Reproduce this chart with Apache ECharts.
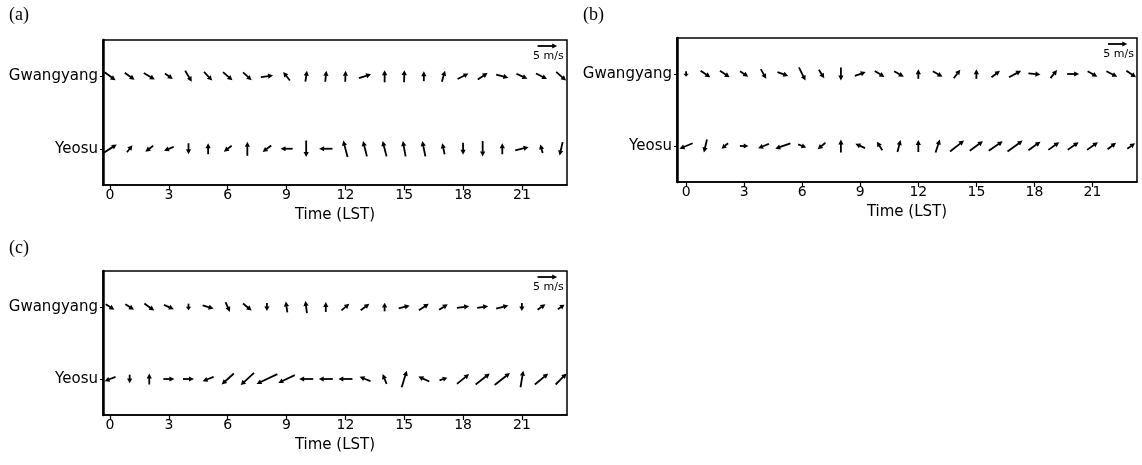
<!DOCTYPE html>
<html>
  <head>
    <meta charset="utf-8" />
    <title>Wind vectors</title>
    <style>
      html, body { margin: 0; padding: 0; background: #fff; }
      #main { width: 1142px; height: 465px; }
    </style>
  </head>
  <body>
    <script type="text/javascript" src="https://cdn.jsdelivr.net/npm/echarts@6/dist/echarts.min.js"></script>
    <div id="main"></div>
    <script type="text/javascript">
      // hours 0..23 (LST), wind components in m/s (u east, v north)
      var hours = [0,1,2,3,4,5,6,7,8,9,10,11,12,13,14,15,16,17,18,19,20,21,22,23];
      var stations = ["Yeosu", "Gwangyang"];
      var tickHours = [0, 3, 6, 9, 12, 15, 18, 21];
      var scaleSpeed = 5;

      // panel (a)
      var gwangA_u = [2.8,2.5,2.8,2.0,1.7,2.1,2.4,2.2,3.1,-1.7,0.4,0.3,0.1,3.1,0.0,0.1,0.0,0.8,2.8,2.5,3.1,2.8,2.8,2.5];
      var gwangA_v = [-2.0,-1.8,-1.7,-1.4,-2.8,-2.2,-2.1,-2.0,0.4,2.2,2.8,2.8,2.8,1.0,3.1,3.1,2.5,2.8,1.4,1.7,-0.8,-1.3,-1.4,-2.2];
      var yeosuA_u = [3.4,1.4,-2.0,-2.5,0.0,0.0,-2.0,0.0,-2.2,-3.1,0.0,-3.4,-1.1,-1.0,-1.0,-0.7,-0.8,-0.6,0.0,0.0,0.0,3.4,-0.6,-0.8];
      var yeosuA_v = [2.2,1.8,-1.5,-1.0,-2.8,2.8,-1.5,3.6,-1.7,0.0,-4.2,0.0,4.2,3.9,3.9,3.9,3.9,2.8,-3.1,-3.9,2.8,0.8,2.2,-3.4];

      // panel (b)
      var gwangB_u = [0.0,2.5,2.5,2.1,1.4,2.8,1.7,1.4,0.0,2.8,2.5,2.5,0.0,2.5,1.7,0.0,2.2,3.1,3.1,1.7,3.1,2.5,2.8,2.5];
      var gwangB_v = [-1.4,-1.7,-1.7,-1.4,-2.5,-1.0,-3.4,-2.2,-3.4,1.0,-1.5,-1.4,2.5,-1.4,2.2,2.5,1.7,1.7,-0.3,2.1,0.0,-1.4,-1.4,-1.7];
      var yeosuB_u = [-3.4,-0.8,-1.7,2.2,-2.8,-3.9,2.1,-2.0,0.0,-2.5,-1.4,0.8,0.0,1.1,3.6,3.4,3.6,3.9,3.1,2.8,2.8,2.8,2.2,2.0];
      var yeosuB_v = [-1.4,-3.4,-1.4,0.0,-1.1,-1.4,-0.8,-1.7,3.4,1.1,2.2,3.1,3.1,3.4,2.8,2.5,2.5,2.8,2.2,2.0,2.0,2.0,1.7,1.4];

      // panel (c)
      var gwangC_u = [2.2,2.2,2.5,2.5,0.0,2.8,1.1,2.2,0.0,-0.4,-0.4,0.0,2.0,2.2,0.0,2.8,2.5,2.2,3.1,2.8,3.1,0.0,2.0,1.7];
      var gwangC_v = [-1.4,-1.4,-1.8,-1.1,-1.7,-0.8,-2.5,-1.8,-2.0,2.8,3.1,2.5,1.7,1.7,2.2,0.7,1.7,1.4,0.4,0.4,0.8,-2.0,1.4,1.1];
      var yeosuC_u = [-2.8,0.0,0.0,2.8,2.8,-2.8,-3.1,-3.4,-5.3,-4.2,-3.6,-3.6,-3.6,-2.8,-1.0,1.3,-2.8,2.0,3.1,3.6,3.9,0.7,3.4,2.8];
      var yeosuC_v = [-1.1,-2.2,2.8,0.0,0.0,-1.1,-2.8,-3.1,-2.5,-2.0,0.0,0.0,0.0,1.1,2.5,4.2,1.3,0.7,2.5,2.8,3.1,4.2,2.8,2.8];

      var panels = [
        { label: "(a)", gu: gwangA_u, gv: gwangA_v, yu: yeosuA_u, yv: yeosuA_v,
          grid: { left: 103, top: 40, width: 464, height: 145 }, min: -0.36, max: 23.3 },
        { label: "(b)", gu: gwangB_u, gv: gwangB_v, yu: yeosuB_u, yv: yeosuB_v,
          grid: { left: 677, top: 38, width: 460, height: 144 }, min: -0.47, max: 23.3 },
        { label: "(c)", gu: gwangC_u, gv: gwangC_v, yu: yeosuC_u, yv: yeosuC_v,
          grid: { left: 103, top: 271, width: 464, height: 144 }, min: -0.36, max: 23.3 }
      ];

      var HOURS_PER_MS = 0.2; // 5 m/s arrow ~ one hour wide
      var FONT = "DejaVu Sans";

      function arrowShape(cx, cy, dx, dy) {
        var len = Math.sqrt(dx * dx + dy * dy);
        if (len < 0.5) return { type: "group", children: [] };
        var x0 = cx - dx / 2, y0 = cy - dy / 2;
        var x1 = cx + dx / 2, y1 = cy + dy / 2;
        var ux = dx / len, uy = dy / len;
        var h = Math.min(5, len * 0.55);
        var w = 2.6;
        var bx = x1 - ux * h, by = y1 - uy * h;
        var px = -uy, py = ux;
        return {
          type: "group",
          children: [
            {
              type: "line",
              shape: { x1: x0, y1: y0, x2: bx + ux * 0.5, y2: by + uy * 0.5 },
              style: { stroke: "#000", lineWidth: 1.8 }
            },
            {
              type: "polygon",
              shape: { points: [[x1, y1], [bx + px * w, by + py * w], [bx - px * w, by - py * w]] },
              style: { fill: "#000" }
            }
          ]
        };
      }

      function renderArrow(params, api) {
        var c = api.coord([api.value(0), api.value(1)]);
        var k = api.size([1, 0])[0] * HOURS_PER_MS;
        return arrowShape(c[0], c[1], api.value(2) * k, -api.value(3) * k);
      }

      function renderScale(params, api) {
        var cs = params.coordSys;
        var c = api.coord([api.value(0), 0]);
        var k = api.size([1, 0])[0] * HOURS_PER_MS;
        var y = cs.y + 6;
        var g = arrowShape(c[0], y, api.value(2) * k, 0);
        g.children.push({
          type: "text",
          style: {
            text: "5 m/s", x: c[0] + 1, y: y + 5, align: "center", verticalAlign: "top",
            font: "11px '" + FONT + "'", fill: "#000"
          }
        });
        return g;
      }

      var grids = [], xAxes = [], yAxes = [], series = [], titles = [];

      panels.forEach(function (p, i) {
        grids.push({
          left: p.grid.left, top: p.grid.top, width: p.grid.width, height: p.grid.height,
          show: true, borderColor: "#000", borderWidth: 1.5, backgroundColor: "transparent"
        });
        xAxes.push({
          type: "value", gridIndex: i, min: p.min, max: p.max,
          name: "Time (LST)", nameLocation: "middle", nameGap: 23,
          nameTextStyle: { fontFamily: FONT, fontSize: 15, color: "#000" },
          axisLine: { show: true, onZero: false, lineStyle: { color: "#000", width: 1.5 } },
          axisTick: { show: true, length: 5, customValues: tickHours, lineStyle: { color: "#000", width: 1.2 } },
          axisLabel: { customValues: tickHours, fontFamily: FONT, fontSize: 14, color: "#000", margin: 3 },
          splitLine: { show: false }
        });
        yAxes.push({
          type: "category", gridIndex: i, data: stations,
          axisLine: { show: true, onZero: false, lineStyle: { color: "#000", width: 2.5 } },
          axisTick: { show: true, length: 3, alignWithLabel: true, lineStyle: { color: "#000" } },
          axisLabel: { fontFamily: FONT, fontSize: 15, color: "#000", margin: 5 },
          splitLine: { show: false }
        });

        var data = [];
        hours.forEach(function (h, j) {
          data.push([h, 1, p.gu[j], p.gv[j]]);
          data.push([h, 0, p.yu[j], p.yv[j]]);
        });
        series.push({
          type: "custom", xAxisIndex: i, yAxisIndex: i,
          renderItem: renderArrow, encode: { x: 0, y: 1 }, data: data, silent: true
        });
        series.push({
          type: "custom", xAxisIndex: i, yAxisIndex: i,
          renderItem: renderScale, encode: { x: 0 }, data: [[22.3, 0, scaleSpeed, 0]], silent: true
        });

        titles.push({
          text: p.label,
          left: i === 1 ? 578 : 4,
          top: i === 2 ? 234 : 1,
          textStyle: { fontFamily: "Liberation Serif", fontWeight: "normal", fontSize: 18, color: "#000" }
        });
      });

      var myChart = echarts.init(document.getElementById("main"));
      myChart.setOption({
        animation: false,
        backgroundColor: "#fff",
        title: titles,
        grid: grids,
        xAxis: xAxes,
        yAxis: yAxes,
        series: series
      });
    </script>
  </body>
</html>
